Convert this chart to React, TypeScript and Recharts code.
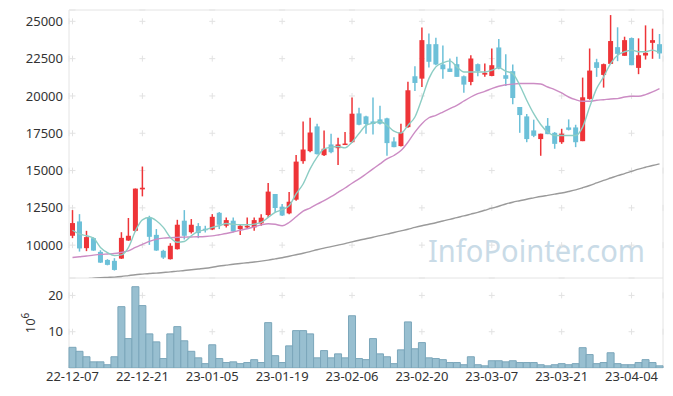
import React from 'react';
import { ComposedChart, Bar, Line, XAxis, YAxis, CartesianGrid, ReferenceArea } from 'recharts';

const dates = [
  '22-12-07', '22-12-08', '22-12-09', '22-12-12', '22-12-13', '22-12-14', '22-12-15', '22-12-16', '22-12-19', '22-12-20',
  '22-12-21', '22-12-22', '22-12-23', '22-12-26', '22-12-27', '22-12-28', '22-12-29', '23-01-02', '23-01-03', '23-01-04',
  '23-01-05', '23-01-06', '23-01-09', '23-01-10', '23-01-11', '23-01-12', '23-01-13', '23-01-16', '23-01-17', '23-01-18',
  '23-01-19', '23-01-20', '23-01-25', '23-01-26', '23-01-27', '23-01-30', '23-01-31', '23-02-01', '23-02-02', '23-02-03',
  '23-02-06', '23-02-07', '23-02-08', '23-02-09', '23-02-10', '23-02-13', '23-02-14', '23-02-15', '23-02-16', '23-02-17',
  '23-02-20', '23-02-21', '23-02-22', '23-02-23', '23-02-24', '23-02-27', '23-02-28', '23-03-02', '23-03-03', '23-03-06',
  '23-03-07', '23-03-08', '23-03-09', '23-03-10', '23-03-13', '23-03-14', '23-03-15', '23-03-16', '23-03-17', '23-03-20',
  '23-03-21', '23-03-22', '23-03-23', '23-03-24', '23-03-27', '23-03-28', '23-03-29', '23-03-30', '23-03-31', '23-04-03',
  '23-04-04', '23-04-05', '23-04-06', '23-04-07', '23-04-10',
];

const opens = [
  10630, 11590, 9800, 10470, 9550, 9010, 8950, 9100, 10310, 10960,
  13740, 11860, 10690, 9620, 9060, 9730, 11640, 10870, 11280, 11100,
  11050, 12170, 11300, 11640, 11080, 11190, 11190, 11460, 12020, 13430,
  12580, 12130, 13050, 15630, 16300, 17960, 16030, 16750, 16500, 16750,
  16900, 18830, 18630, 18290, 18430, 18500, 16950, 16640, 17910, 21320,
  21160, 23470, 23470, 22110, 21840, 22130, 21320, 20940, 22130, 21430,
  21340, 23250, 21390, 21660, 19260, 18630, 17690, 17110, 18000, 17530,
  16900, 17890, 17890, 16970, 19800, 22260, 21410, 22150, 23270, 22690,
  23880, 21880, 22710, 23560, 23470,
];
const highs = [
  12350, 12080, 10960, 10520, 9660, 9060, 9130, 10870, 11820, 13800,
  15270, 11970, 11080, 9690, 10130, 11700, 12350, 11750, 11480, 11300,
  12080, 12220, 11860, 11860, 11370, 11860, 11860, 12080, 14170, 13430,
  12760, 13560, 16050, 18290, 18540, 18140, 17690, 17460, 17200, 17580,
  19890, 19210, 18680, 19890, 19350, 18540, 17240, 18140, 20960, 21990,
  24590, 24190, 23900, 23380, 22510, 22620, 21370, 22730, 22170, 22170,
  23180, 23810, 22790, 22110, 19260, 18790, 18410, 17470, 18520, 17580,
  17800, 18430, 18070, 21230, 23180, 22490, 22170, 25420, 24600, 23970,
  23920, 23860, 24730, 24510, 24150,
];
const lows = [
  10470, 9570, 9600, 9620, 8810, 8650, 8300, 9080, 10290, 10900,
  13270, 10020, 9620, 9080, 9040, 9710, 10380, 10780, 10470, 10850,
  11010, 11080, 11190, 10870, 10690, 11080, 10960, 11300, 11860, 12200,
  11950, 12080, 12980, 15450, 16230, 16070, 15980, 16160, 15380, 16720,
  16840, 18030, 17470, 17420, 18090, 15990, 16570, 16610, 17870, 20330,
  20600, 21900, 22060, 21160, 21610, 21280, 20220, 20720, 21320, 21280,
  21320, 21790, 20670, 19440, 17530, 16900, 17240, 15990, 17440, 16460,
  16790, 17690, 16570, 16970, 19750, 21280, 20560, 22150, 22330, 22690,
  22060, 21460, 22440, 22490, 22490,
];
const closes = [
  11480, 9780, 10540, 9640, 8830, 8680, 8340, 10490, 10630, 13790,
  13850, 10560, 9640, 9170, 9960, 11370, 10630, 11370, 10810, 11030,
  11900, 11370, 11680, 10920, 11300, 11300, 11680, 11840, 13590, 12490,
  11990, 12910, 15600, 16410, 17550, 16100, 16460, 16230, 16750, 16810,
  18810, 18070, 18120, 18120, 18140, 16840, 16570, 17550, 20380, 20870,
  23740, 22290, 22110, 21790, 21610, 21280, 20760, 22510, 21660, 21550,
  22060, 21840, 21150, 19860, 18720, 17110, 17330, 17470, 17440, 16790,
  17470, 17730, 16900, 19910, 21700, 21880, 22130, 23680, 22820, 23740,
  22060, 22730, 22890, 23740, 22850,
];

// moving averages as drawn (short, mid, long)
const maShort = [
  11000, 10750, 10630, 10470, 9850, 9500, 9300, 9350, 9840, 10950,
  11700, 11850, 11640, 11190, 10520, 10200, 10250, 10630, 10920, 11030,
  11190, 11300, 11450, 11400, 11370, 11370, 11410, 11520, 11860, 12200,
  12380, 12640, 13430, 14100, 15110, 15900, 16450, 16570, 16610, 16520,
  16900, 17480, 18030, 18180, 18290, 18030, 17640, 17510, 18030, 18590,
  19820, 21160, 21950, 22220, 22350, 21950, 21610, 21610, 21610, 21610,
  21720, 21900, 21660, 21500, 20720, 19710, 18810, 18090, 17580, 17350,
  17350, 17350, 17350, 17910, 19260, 20490, 21280, 22170, 22730, 22960,
  23070, 22960, 22960, 23070, 22890,
];
const maMid = [
  9170, 9220, 9270, 9330, 9380, 9410, 9440, 9520, 9620, 9850,
  10050, 10250, 10400, 10470, 10500, 10520, 10540, 10550, 10560, 10580,
  10620, 10700, 10780, 10880, 11000, 11100, 11230, 11360, 11440, 11400,
  11300, 11520, 11900, 12280, 12490, 12750, 12980, 13250, 13540, 13830,
  14150, 14440, 14770, 15110, 15450, 15780, 16010, 16340, 16900, 17580,
  18140, 18540, 18700, 18920, 19150, 19370, 19660, 19930, 20150, 20310,
  20490, 20650, 20750, 20790, 20830, 20830, 20830, 20800, 20600, 20420,
  20200, 19930, 19750, 19640, 19640, 19710, 19750, 19800, 19820, 19930,
  19980, 19980, 20090, 20270, 20490,
];
const maLong = [
  7650, 7700, 7740, 7790, 7820, 7840, 7860, 7900, 7960, 8020,
  8060, 8100, 8130, 8170, 8210, 8260, 8300, 8350, 8400, 8450,
  8520, 8600, 8660, 8720, 8770, 8820, 8870, 8930, 9000, 9080,
  9160, 9260, 9360, 9460, 9570, 9690, 9800, 9900, 10000, 10100,
  10220, 10330, 10430, 10530, 10640, 10740, 10850, 10960, 11070, 11190,
  11300, 11400, 11500, 11620, 11730, 11850, 11960, 12080, 12200, 12340,
  12480, 12610, 12760, 12880, 12980, 13080, 13170, 13260, 13340, 13420,
  13500, 13600, 13710, 13850, 14000, 14170, 14340, 14500, 14660, 14800,
  14950, 15100, 15220, 15340, 15450,
];

// volume, millions of shares
const volumes = [
  5.7, 4.6, 3.1, 1.7, 1.7, 0.9, 3.1, 16.9, 8.1, 22.4,
  17.2, 9.4, 7.2, 2.6, 9.4, 11.4, 7.5, 4.6, 2.8, 1.2,
  6.4, 2.6, 1.5, 1.7, 1.2, 1.5, 2.3, 1.5, 12.5, 3.4,
  1.5, 6.1, 10.3, 10.3, 9.4, 2.8, 4.8, 2.8, 3.9, 2.8,
  14.4, 2.6, 2.3, 8.1, 3.9, 3.1, 1.2, 5.0, 12.7, 5.3,
  7.0, 2.8, 2.6, 2.3, 1.5, 1.5, 0.9, 3.1, 0.9, 0.6,
  2.0, 2.0, 1.7, 2.0, 1.5, 1.5, 1.5, 0.9, 0.6, 0.9,
  1.2, 0.9, 1.2, 5.6, 3.7, 1.2, 1.5, 4.2, 1.2, 0.9,
  0.9, 1.5, 2.3, 1.5, 0.6,
];

const priceTicks = [10000, 12500, 15000, 17500, 20000, 22500, 25000];
const volumeTicks = [10, 20];

const PMIN = 7800;
const PMAX = 25760;
const VMAX = 24.8;

const W = 673;
const LEFT = 69;
const RIGHT = 10;
const TOP = 10;
const MAIN_H = 278;
const VOL_H = 118;
const XAXIS_H = 28;

const UP = '#ee3438';
const DOWN = '#6cc0d8';
const FRAME = '#e4e4e4';
const CROSS = '#e2e2e2';
const FONT = '"Noto Sans", sans-serif';
const TICK = { fill: '#333', fontSize: 13, fontFamily: FONT };

const data = dates.map((date, i) => ({
  date,
  o: opens[i],
  h: highs[i],
  l: lows[i],
  c: closes[i],
  range: [lows[i], highs[i]],
  ma5: maShort[i],
  ma20: maMid[i],
  ma60: maLong[i],
  vol: volumes[i],
}));

// "+" marks at grid intersections, done with dashed grid lines
const plotW = W - LEFT - RIGHT;
const band = plotW / dates.length;
const xPeriod = band * 10;
const hDash = `6 ${xPeriod - 6}`;
const hOffset = (((3 - band / 2) % xPeriod) + xPeriod) % xPeriod;

const crossDash = (height: number, min: number, max: number, step: number, topTick: number) => {
  const k = height / (max - min);
  const period = step * k;
  const first = (max - topTick) * k;
  return { dash: `6 ${period - 6}`, offset: (((3 - first) % period) + period) % period };
};
const mainV = crossDash(MAIN_H - TOP, PMIN, PMAX, 2500, 25000);
const volV = crossDash(VOL_H - XAXIS_H, 0, VMAX, 10, 20);

const Candle = (props: any) => {
  const { x, y, width, height, payload } = props;
  if (!payload || height == null || isNaN(y)) return null;
  const { o, h, l, c } = payload;
  const toY = (v: number) => y + ((h - v) / (h - l)) * height;
  const color = c >= o ? UP : DOWN;
  const top = toY(Math.max(o, c));
  const bot = toY(Math.min(o, c));
  const cx = x + width / 2;
  return (
    <g>
      <line x1={cx} x2={cx} y1={y} y2={y + height} stroke={color} strokeWidth={1.5} />
      <rect x={x} y={top} width={width} height={Math.max(1.5, bot - top)} fill={color} />
    </g>
  );
};

const VolumeLabel = (props: any) => {
  const { viewBox } = props;
  const cx = viewBox.x + 26;
  const cy = viewBox.y + viewBox.height / 2;
  return (
    <text transform={`translate(${cx},${cy}) rotate(-90)`} textAnchor="middle" fill="#333" fontSize={13} fontFamily={FONT}>
      10<tspan fontSize={10} dy={-6}>6</tspan>
    </text>
  );
};

export default function App() {
  return (
    <div style={{ position: 'absolute', left: 0, top: 0, width: W, height: 396, background: '#fff' }}>
      <svg width={W} height={MAIN_H} style={{ position: 'absolute', left: 0, top: 0 }}>
        <text x={428} y={262} fontSize={31} fontFamily={FONT} fill="#c9dbe7" textLength={217} lengthAdjust="spacingAndGlyphs">
          InfoPointer.com
        </text>
      </svg>
      <div style={{ position: 'absolute', left: 0, top: 0 }}>
        <ComposedChart width={W} height={MAIN_H} data={data} margin={{ top: TOP, right: RIGHT, bottom: 0, left: 9 }} barCategoryGap={1}>
          <ReferenceArea y1={PMIN} y2={PMAX} fill="none" stroke={FRAME} />
          <CartesianGrid horizontal vertical={false} stroke={CROSS} strokeDasharray={hDash} strokeDashoffset={hOffset} />
          <CartesianGrid horizontal={false} vertical stroke={CROSS} strokeDasharray={mainV.dash} strokeDashoffset={mainV.offset} />
          <XAxis dataKey="date" hide interval={9} />
          <YAxis
            domain={[PMIN, PMAX]}
            ticks={priceTicks}
            allowDataOverflow
            interval={0}
            width={60}
            axisLine={false}
            tickLine={false}
            tickSize={4}
            tick={TICK}
          />
          <Bar dataKey="range" shape={<Candle />} isAnimationActive={false} />
          <Line dataKey="ma60" type="monotone" stroke="#9a9a9a" strokeWidth={1.4} dot={false} activeDot={false} isAnimationActive={false} />
          <Line dataKey="ma20" type="monotone" stroke="#cc8cc4" strokeWidth={1.4} dot={false} activeDot={false} isAnimationActive={false} />
          <Line dataKey="ma5" type="monotone" stroke="#8ccdc4" strokeWidth={1.4} dot={false} activeDot={false} isAnimationActive={false} />
        </ComposedChart>
      </div>
      <div style={{ position: 'absolute', left: 0, top: MAIN_H }}>
        <ComposedChart width={W} height={VOL_H} data={data} margin={{ top: 0, right: RIGHT, bottom: 0, left: 9 }} barCategoryGap={0}>
          <ReferenceArea y1={0} y2={VMAX} fill="none" stroke={FRAME} />
          <CartesianGrid horizontal vertical={false} stroke={CROSS} strokeDasharray={hDash} strokeDashoffset={hOffset} />
          <CartesianGrid horizontal={false} vertical stroke={CROSS} strokeDasharray={volV.dash} strokeDashoffset={volV.offset} />
          <XAxis
            dataKey="date"
            interval={9}
            height={XAXIS_H}
            axisLine={false}
            tickLine={false}
            tickSize={2}
            tick={TICK}
          />
          <YAxis
            domain={[0, VMAX]}
            ticks={volumeTicks}
            allowDataOverflow
            interval={0}
            width={60}
            axisLine={false}
            tickLine={false}
            tickSize={4}
            tick={TICK}
            label={<VolumeLabel />}
          />
          <Bar dataKey="vol" fill="#98bfd0" stroke="#7ba6ba" strokeWidth={1} isAnimationActive={false} />
        </ComposedChart>
      </div>
    </div>
  );
}
